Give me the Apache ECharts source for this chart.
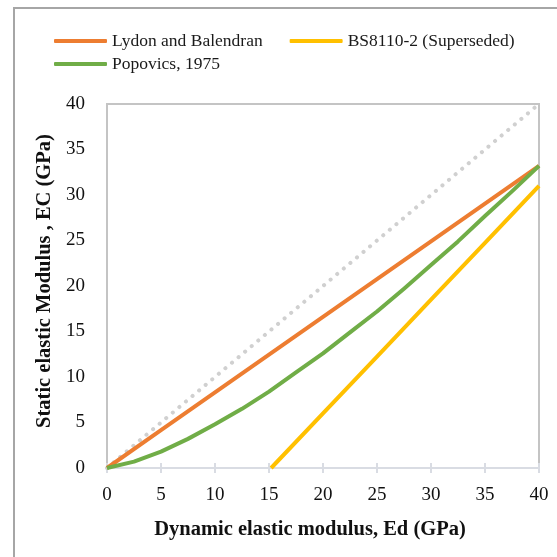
<!DOCTYPE html>
<html>
<head>
<meta charset="utf-8">
<script src="https://cdn.jsdelivr.net/npm/echarts@6/dist/echarts.min.js"></script>
<style>
  html, body { margin: 0; padding: 0; background: #fff; }
  #chart { width: 557px; height: 557px; }
</style>
</head>
<body>
<div id="chart"></div>
<script>
// Dynamic modulus Ed (GPa) sample points
const edValues = [0, 5, 10, 15, 20, 25, 30, 35, 40];
// Static modulus Ec (GPa) for each relation
const lydonValues = [0, 4.15, 8.3, 12.45, 16.6, 20.75, 24.9, 29.05, 33.2];
const popovicsEd = [0, 2.5, 5, 7.5, 10, 12.5, 15, 17.5, 20, 22.5, 25, 27.5, 30, 32.5, 35, 37.5, 40];
const popovicsValues = [0, 0.7, 1.8, 3.2, 4.8, 6.5, 8.4, 10.5, 12.6, 14.9, 17.2, 19.7, 22.3, 24.9, 27.7, 30.4, 33.2];
const bsEd = [15.2, 20, 25, 30, 35, 40];
const bsValues = [0, 6, 12.25, 18.5, 24.75, 31];
// Equality reference line Ec = Ed
const equalityValues = [0, 5, 10, 15, 20, 25, 30, 35, 40];
const xTicks = [0, 5, 10, 15, 20, 25, 30, 35, 40];

const pairs = (xs, ys) => xs.map((x, i) => [x, ys[i]]);

const FONT = 'Liberation Serif';
const chart = echarts.init(document.getElementById('chart'), null, { renderer: 'canvas' });

const xAxisBase = {
  type: 'value',
  min: xTicks[0],
  max: xTicks[xTicks.length - 1],
  interval: 5
};

const legendText = { fontFamily: FONT, fontSize: 17.5, color: '#1a1a1a' };

chart.setOption({
  animation: false,
  backgroundColor: '#ffffff',
  textStyle: { fontFamily: FONT },
  graphic: [{
    type: 'rect',
    shape: { x: 14, y: 8, width: 560, height: 560 },
    style: { fill: 'none', stroke: '#A6A6A6', lineWidth: 2 },
    silent: true
  }],
  legend: [{
    data: ['Lydon and Balendran', 'BS8110-2 (Superseded)'],
    left: 54,
    top: 32,
    padding: 0,
    icon: 'roundRect',
    itemWidth: 53,
    itemHeight: 4,
    itemGap: 27,
    textStyle: legendText
  }, {
    data: ['Popovics, 1975'],
    left: 54,
    top: 55,
    padding: 0,
    icon: 'roundRect',
    itemWidth: 53,
    itemHeight: 4,
    textStyle: legendText
  }],
  grid: {
    left: 107,
    right: 18,
    top: 104,
    bottom: 89,
    show: true,
    borderColor: '#C4C4C4',
    borderWidth: 2,
    containLabel: false
  },
  xAxis: [Object.assign({}, xAxisBase, {
    name: 'Dynamic elastic modulus, Ed (GPa)',
    nameLocation: 'middle',
    nameGap: 51,
    nameTextStyle: {
      fontFamily: FONT, fontSize: 20.5, fontWeight: 'bold', color: '#111',
      padding: [0, 26, 0, 0]
    },
    axisLine: { show: true, lineStyle: { color: '#D9DCE3', width: 2 } },
    axisTick: { show: true, length: 5, lineStyle: { color: '#D9DCE3', width: 2 } },
    axisLabel: { fontFamily: FONT, fontSize: 19, color: '#111', margin: 18 },
    splitLine: { show: false }
  }), Object.assign({}, xAxisBase, {
    position: 'bottom',
    axisLine: { show: false },
    axisTick: { show: true, inside: true, length: 5, lineStyle: { color: '#D9DCE3', width: 2 } },
    axisLabel: { show: false },
    splitLine: { show: false }
  })],
  yAxis: {
    type: 'value',
    min: 0,
    max: 40,
    interval: 5,
    name: 'Static elastic Modulus , EC (GPa)',
    nameLocation: 'middle',
    nameGap: 45,
    nameTextStyle: {
      fontFamily: FONT, fontSize: 20.5, fontWeight: 'bold', color: '#111',
      padding: [0, 0, 0, 10]
    },
    axisLine: { show: true, lineStyle: { color: '#C4C4C4', width: 2 } },
    axisTick: { show: false },
    axisLabel: { fontFamily: FONT, fontSize: 19, color: '#111', margin: 22 },
    splitLine: { show: false }
  },
  series: [{
    name: 'Ec = Ed',
    type: 'line',
    data: pairs(edValues, equalityValues),
    symbol: 'none',
    lineStyle: { color: '#D0D0D0', width: 4, type: [0.1, 8.5], cap: 'round' },
    z: 1
  }, {
    name: 'Lydon and Balendran',
    type: 'line',
    data: pairs(edValues, lydonValues),
    symbol: 'none',
    color: '#ED7D31',
    lineStyle: { color: '#ED7D31', width: 4 },
    z: 2
  }, {
    name: 'BS8110-2 (Superseded)',
    type: 'line',
    data: pairs(bsEd, bsValues),
    symbol: 'none',
    color: '#FFC000',
    lineStyle: { color: '#FFC000', width: 4 },
    z: 3
  }, {
    name: 'Popovics, 1975',
    type: 'line',
    data: pairs(popovicsEd, popovicsValues),
    symbol: 'none',
    color: '#70AD47',
    lineStyle: { color: '#70AD47', width: 4, join: 'round' },
    z: 4
  }]
});
</script>
</body>
</html>
